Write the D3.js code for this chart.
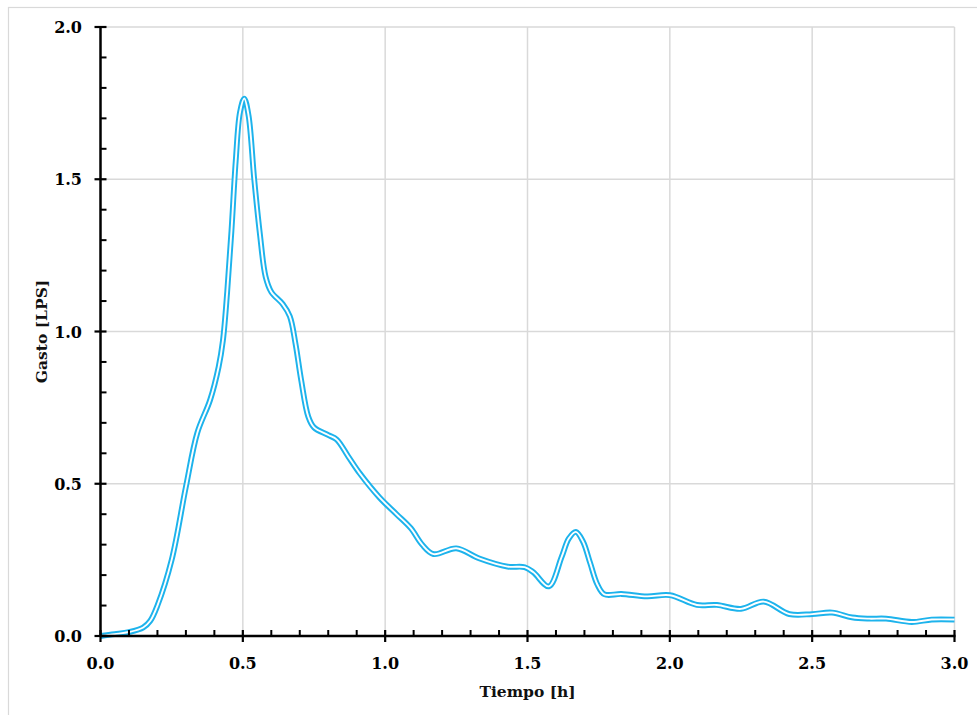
<!DOCTYPE html>
<html><head><meta charset="utf-8">
<script src="https://cdn.jsdelivr.net/npm/d3@7"></script>
<style>body{margin:0;background:#fff}svg{display:block}</style>
</head><body>
<svg id="c" width="977" height="715"></svg>
<script>
const tiempo = [0, 0.05, 0.1, 0.15, 0.175, 0.2, 0.25, 0.3, 0.34, 0.385, 0.415, 0.43, 0.445, 0.46, 0.475, 0.49, 0.505, 0.52, 0.54, 0.56, 0.58, 0.6, 0.64, 0.665, 0.685, 0.705, 0.73, 0.75, 0.8, 0.83, 0.87, 0.91, 0.98, 1.04, 1.09, 1.13, 1.17, 1.25, 1.33, 1.43, 1.49, 1.52, 1.575, 1.62, 1.645, 1.67, 1.695, 1.72, 1.745, 1.77, 1.83, 1.92, 2.0, 2.095, 2.165, 2.25, 2.33, 2.42, 2.5, 2.57, 2.64, 2.7, 2.76, 2.85, 2.92, 3.0];
const gasto = [0, 0.006, 0.013, 0.028, 0.05, 0.1, 0.25, 0.49, 0.667, 0.775, 0.884, 0.97, 1.13, 1.33, 1.56, 1.72, 1.765, 1.71, 1.5, 1.32, 1.18, 1.13, 1.09, 1.05, 0.96, 0.84, 0.72, 0.685, 0.66, 0.645, 0.59, 0.535, 0.455, 0.4, 0.354, 0.3, 0.269, 0.288, 0.255, 0.228, 0.226, 0.21, 0.163, 0.26, 0.32, 0.342, 0.31, 0.24, 0.17, 0.137, 0.138, 0.13, 0.134, 0.102, 0.102, 0.089, 0.113, 0.072, 0.072, 0.077, 0.061, 0.057, 0.057, 0.046, 0.054, 0.054];
const xTicks = [0, 0.5, 1.0, 1.5, 2.0, 2.5, 3.0];
const yTicks = [0, 0.5, 1.0, 1.5, 2.0];
const xLabel = "Tiempo [h]";
const yLabel = "Gasto [LPS]";

const svg = d3.select("#c");
const L = 100.5, R = 954.5, T = 27, B = 636;
const x = d3.scaleLinear().domain([0, 3]).range([L, R]);
const y = d3.scaleLinear().domain([0, 2]).range([B, T]);
const font = "'DejaVu Serif', serif";

svg.append("rect").attr("x", 8.5).attr("y", 7.5).attr("width", 1000).attr("height", 800)
  .attr("fill", "none").attr("stroke", "#d9d9d9").attr("stroke-width", 1.2);

const g = svg.append("g");
g.selectAll("line.vx").data(xTicks.filter(d => d > 0)).join("line")
  .attr("x1", d => x(d)).attr("x2", d => x(d)).attr("y1", T).attr("y2", B)
  .attr("stroke", "#d9d9d9").attr("stroke-width", 1.5);
g.selectAll("line.hy").data(yTicks.filter(d => d > 0)).join("line")
  .attr("x1", L).attr("x2", R).attr("y1", d => y(d)).attr("y2", d => y(d))
  .attr("stroke", "#d9d9d9").attr("stroke-width", 1.5);

const data = tiempo.map((t, i) => [t, gasto[i]]);
const line = d3.line().x(d => x(d[0])).y(d => y(d[1])).curve(d3.curveCatmullRom.alpha(0.5));
svg.append("path").attr("d", line(data)).attr("fill", "none")
  .attr("stroke", "#1db3ec").attr("stroke-width", 5.8).attr("stroke-linejoin", "round");
svg.append("path").attr("d", line(data)).attr("fill", "none")
  .attr("stroke", "#ffffff").attr("stroke-width", 1.9).attr("stroke-linejoin", "round");

const ax = svg.append("g");
ax.append("line").attr("x1", L).attr("x2", R + 1).attr("y1", B).attr("y2", B)
  .attr("stroke", "#000").attr("stroke-width", 2.5);
ax.append("line").attr("x1", L).attr("x2", L).attr("y1", T).attr("y2", B + 1)
  .attr("stroke", "#000").attr("stroke-width", 2.5);

const xMinor = d3.range(0, 31).map(i => i / 10).filter(v => Math.round(v * 10) % 5 !== 0);
const yMinor = d3.range(0, 21).map(i => i / 10).filter(v => Math.round(v * 10) % 5 !== 0);
ax.selectAll("line.xm").data(xMinor).join("line")
  .attr("x1", d => x(d)).attr("x2", d => x(d)).attr("y1", B).attr("y2", B - 6)
  .attr("stroke", "#000").attr("stroke-width", 2);
ax.selectAll("line.ym").data(yMinor).join("line")
  .attr("x1", L).attr("x2", L + 6).attr("y1", d => y(d)).attr("y2", d => y(d))
  .attr("stroke", "#000").attr("stroke-width", 2);
ax.selectAll("line.xM").data(xTicks).join("line")
  .attr("x1", d => x(d)).attr("x2", d => x(d)).attr("y1", B - 6).attr("y2", B + 6)
  .attr("stroke", "#000").attr("stroke-width", 2.2);
ax.selectAll("line.yM").data(yTicks).join("line")
  .attr("x1", L - 6).attr("x2", L + 6).attr("y1", d => y(d)).attr("y2", d => y(d))
  .attr("stroke", "#000").attr("stroke-width", 2.2);

ax.selectAll("text.xl").data(xTicks).join("text")
  .attr("x", d => x(d)).attr("y", 669).attr("text-anchor", "middle")
  .attr("font-family", font).attr("font-weight", "bold").attr("font-size", 16)
  .attr("fill", "#000").text(d => d3.format(".1f")(d));
ax.selectAll("text.yl").data(yTicks).join("text")
  .attr("x", 82).attr("y", d => y(d) + 6).attr("text-anchor", "end")
  .attr("font-family", font).attr("font-weight", "bold").attr("font-size", 16)
  .attr("fill", "#000").text(d => d3.format(".1f")(d));

svg.append("text").attr("x", (L + R) / 2).attr("y", 697).attr("text-anchor", "middle")
  .attr("font-family", font).attr("font-weight", "bold").attr("font-size", 15.5)
  .attr("fill", "#111").text(xLabel);
svg.append("text").attr("transform", `translate(47,${(T + B) / 2}) rotate(-90)`)
  .attr("text-anchor", "middle")
  .attr("font-family", font).attr("font-weight", "bold").attr("font-size", 15.5)
  .attr("fill", "#111").text(yLabel);
</script>
</body></html>
